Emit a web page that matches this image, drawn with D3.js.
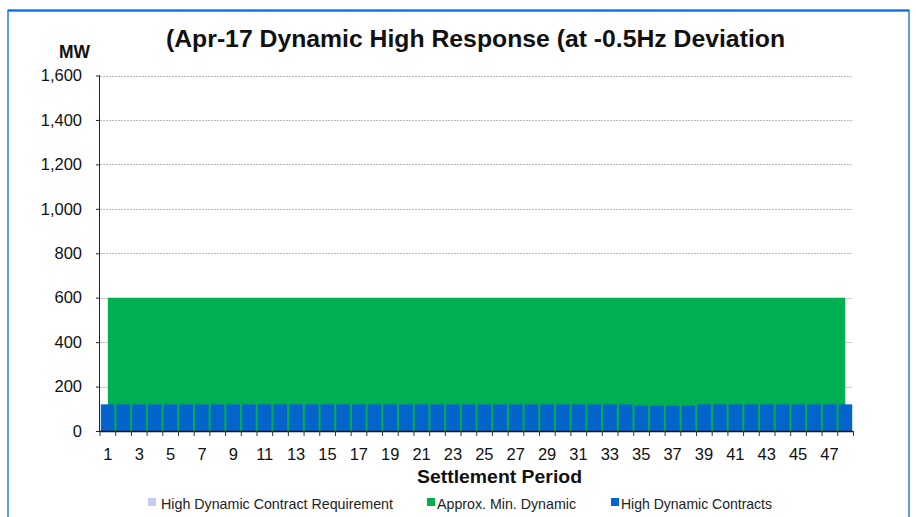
<!DOCTYPE html>
<html><head><meta charset="utf-8">
<script src="https://cdn.jsdelivr.net/npm/d3@7"></script>
<style>body{margin:0;background:#fff;} svg{display:block;font-family:"Liberation Sans",Arial,sans-serif;}</style>
</head><body>
<svg id="c" width="916" height="517"></svg>
<script>
const periods = d3.range(1, 49);
const minDynamic = periods.map(() => 600);
const contracts = [120,120,120,120,120,120,120,120,120,120,120,120,120,120,120,120,120,120,120,120,120,120,120,120,120,120,120,120,120,120,120,120,120,120,114,114,114,114,120,120,120,120,120,120,120,120,120,120];
const yTicks = [0,200,400,600,800,1000,1200,1400,1600];
const xLabels = periods.filter(p => p % 2 === 1);
const legendItems = ["High Dynamic Contract Requirement","Approx. Min. Dynamic","High Dynamic Contracts"];

const svg = d3.select("#c");
const M = {l:100, r:853, t:75.5, b:431};
const x = d3.scaleBand().domain(periods).range([M.l, M.r]).paddingInner(0.13).paddingOuter(0.05);
const xc = d3.scalePoint().domain(periods).range([M.l + x.step()/2, M.r - x.step()/2]);
const y = d3.scaleLinear().domain([0,1600]).range([M.b, M.t]);

// border
svg.append("path").attr("d","M8,520 V10.5 H909 V520").attr("fill","none").attr("stroke","#5a9ee6").attr("stroke-width",2);
svg.append("line").attr("x1",8).attr("x2",909).attr("y1",10.5).attr("y2",10.5).attr("stroke","#0a70e0").attr("stroke-width",2);

// gridlines
svg.append("g").selectAll("line").data(yTicks.filter(d=>d>0)).join("line")
  .attr("x1",M.l).attr("x2",M.r).attr("y1",d=>Math.round(y(d))+0.5).attr("y2",d=>Math.round(y(d))+0.5)
  .attr("stroke","#b8b8b8").attr("stroke-dasharray","2,1").attr("stroke-width",1);

// green area
const area = d3.area().x((d,i)=>xc(periods[i])).y0(y(0)).y1(d=>y(d));
svg.append("path").datum(minDynamic).attr("d",area).attr("fill","#00b050");

// blue bars
svg.append("g").selectAll("rect").data(contracts).join("rect")
  .attr("x",(d,i)=>x(periods[i])).attr("width",x.bandwidth())
  .attr("y",d=>y(d)).attr("height",d=>y(0)-y(d)).attr("fill","#0563cc");

// y axis
const ya = svg.append("g").attr("transform",`translate(${M.l},0)`)
  .call(d3.axisLeft(y).tickValues(yTicks).tickSize(4).tickPadding(14).tickFormat(d3.format(",")));
ya.select(".domain").attr("stroke","#222").attr("d",`M-0.5,${M.t}V${M.b}`);
ya.selectAll(".tick line").attr("stroke","#222");
ya.selectAll("text").attr("font-size",16.5).attr("fill","#111").attr("font-family","Liberation Sans, Arial");

// x axis
const xa = svg.append("g").attr("transform",`translate(0,${M.b})`);
xa.append("line").attr("x1",M.l).attr("x2",M.r).attr("y1",0.5).attr("y2",0.5).attr("stroke","#111").attr("stroke-width",1.5);
xa.selectAll("line.tk").data(d3.range(0,49)).join("line").attr("class","tk")
  .attr("x1",i=>M.l + i*x.step()).attr("x2",i=>M.l + i*x.step()).attr("y1",0).attr("y2",5).attr("stroke","#333");
xa.selectAll("text").data(xLabels).join("text")
  .attr("x",d=>xc(d)).attr("y",29).attr("text-anchor","middle").attr("font-size",16.5).attr("fill","#111").text(d=>d);

// title
svg.append("text").attr("x",166).attr("y",47).attr("font-size",23).attr("font-weight","bold").attr("fill","#111")
  .attr("textLength",619).attr("lengthAdjust","spacingAndGlyphs")
  .text("(Apr-17 Dynamic High  Response (at -0.5Hz Deviation");
svg.append("text").attr("x",59).attr("y",58).attr("font-size",19).attr("font-weight","bold").attr("fill","#111")
  .attr("textLength",31).attr("lengthAdjust","spacingAndGlyphs").text("MW");
svg.append("text").attr("x",417).attr("y",482.5).attr("font-size",18).attr("font-weight","bold").attr("fill","#111")
  .attr("textLength",165).attr("lengthAdjust","spacingAndGlyphs").text("Settlement  Period");

// legend
const lg = [{sx:148, tx:161, w:232, c:"#c5cdf0"},{sx:427, tx:437, w:139, c:"#00b050"},{sx:611, tx:621, w:151, c:"#0563cc"}];
const leg = svg.append("g").selectAll("g").data(legendItems).join("g");
leg.append("rect").attr("x",(d,i)=>lg[i].sx).attr("y",498).attr("width",8).attr("height",8).attr("fill",(d,i)=>lg[i].c);
leg.append("text").attr("x",(d,i)=>lg[i].tx).attr("y",509).attr("font-size",14.5).attr("fill","#222")
  .attr("textLength",(d,i)=>lg[i].w).attr("lengthAdjust","spacingAndGlyphs").text(d=>d);
</script>
</body></html>
